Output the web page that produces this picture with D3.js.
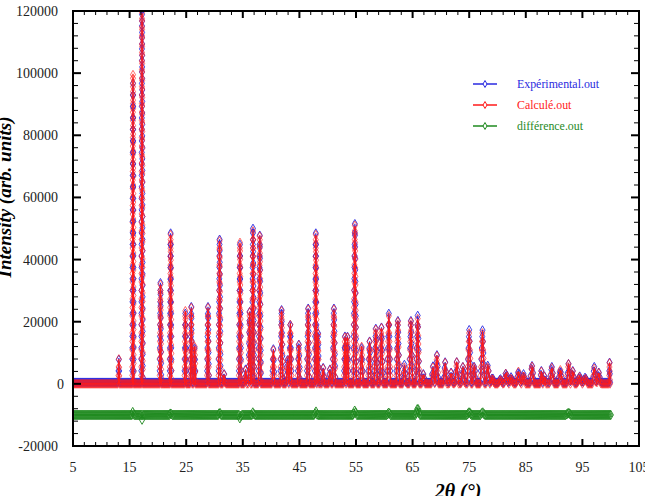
<!DOCTYPE html>
<html>
<head>
<meta charset="utf-8">
<script src="https://cdn.jsdelivr.net/npm/d3@7"></script>
<style>
  body { margin: 0; background: #fff; }
  text { font-family: "Liberation Serif", "Times New Roman", serif; }
</style>
</head>
<body>
<div id="chart"></div>
<script>
// Reflection positions (2theta, deg) and peak intensities
const peakPos = [13.1, 15.6, 17.2, 20.45, 22.25, 24.85, 25.9, 26.5, 28.85, 30.9,
    31.7, 34.5, 35.5, 36.2, 36.8, 38.0, 40.4, 41.85, 42.9, 43.4,
    44.9, 46.55, 47.9, 48.3, 49.2, 50.4, 51.1, 53.05, 53.5, 54.8,
    56.0, 57.4, 58.5, 59.5, 60.8, 62.4, 63.55, 64.7, 65.9, 66.9,
    68.6, 69.3, 70.75, 71.8, 72.8, 73.9, 75.0, 75.9, 77.35, 78.3,
    79.1, 80.5, 81.5, 82.4, 83.7, 84.6, 86.1, 87.75, 88.3, 89.6,
    91.1, 92.55, 93.3, 94.5, 95.5, 97.1, 97.9, 99.8];

// Calculé.out peak heights
const calcPeak = [8000, 99500, 119500, 32000, 48000, 23500, 24500, 12000, 24500, 46000,
    3000, 45500, 4500, 23000, 49500, 47500, 11000, 23500, 7500, 19500,
    12500, 24000, 48000, 16000, 5000, 4500, 24000, 15000, 15000, 51000,
    12000, 13500, 17500, 18000, 22500, 20000, 6000, 20000, 21000, 3000,
    5500, 9000, 6800, 3500, 7000, 5600, 17000, 6000, 17000, 6200,
    2000, 1500, 3600, 2000, 4000, 3000, 5600, 4000, 2300, 5300,
    4500, 6400, 4000, 2400, 2000, 5300, 3500, 6700];

// Expérimental.out peak heights
const obsPeak = [8300, 97000, 120500, 32500, 48500, 23300, 24800, 12300, 24800, 46500,
    3200, 45000, 4700, 23200, 50000, 47800, 11200, 23800, 7700, 19800,
    12700, 24300, 48500, 16300, 5200, 4700, 24300, 15300, 15200, 51500,
    12200, 13700, 17800, 18200, 22800, 20300, 6200, 20300, 22000, 3200,
    5700, 9300, 7000, 3700, 7200, 5800, 17400, 6200, 17300, 6400,
    2200, 1700, 3800, 2200, 4200, 3200, 5800, 4200, 2500, 5500,
    4700, 6600, 4200, 2600, 2200, 5500, 3700, 6900];

const obsBase = 500;
const calcBase = 0;
const scanStart = 5;
const scanEnd = 100;

// différence.out, plotted with an offset of -10000
const diffOffset = -10000;
const diffPos = [15.6, 17.2, 22.25, 30.9, 34.5, 36.8, 47.9, 54.8, 60.8, 65.9, 75.0, 77.35, 92.55];
const diffVal = [1500, -1500, 800, 1000, -1200, 900, 1200, 1500, 800, 2400, 1000, 900, 700];

const seriesNames = ["Expérimental.out", "Calculé.out", "différence.out"];
const seriesColors = ["#2a2ae0", "#ff1a1a", "#1f8a1f"];

const xMajor = d3.range(5, 106, 10);
const xMinor = d3.range(5, 106, 2);
const yMajor = d3.range(-20000, 120001, 20000);
const yMinor = d3.range(-20000, 120001, 4000);

// Canvas
const width = 645, height = 496;
const x = d3.scaleLinear().domain([5, 105]).range([73, 639]);
const y = d3.scaleLinear().domain([-20000, 120000]).range([446, 11]);

const svg = d3.select("#chart").append("svg")
    .attr("width", width)
    .attr("height", height);

svg.append("clipPath").attr("id", "plotclip")
    .append("rect")
    .attr("x", x(5) + 1).attr("y", y(120000) + 1)
    .attr("width", x(105) - x(5) - 2).attr("height", y(-20000) - y(120000) - 2);

// Build the spike profile of a pattern from its peak list
function profile(pos, heights, base) {
    var pts = [[scanStart, base]];
    pos.forEach(function (p, i) {
        var hw = 0.08 + 0.004 * (p - 5);
        var prev = i > 0 ? pos[i - 1] : scanStart;
        var next = i < pos.length - 1 ? pos[i + 1] : scanEnd;
        hw = Math.min(hw, (p - prev) * 0.45, (next - p) * 0.45);
        pts.push([p - hw, base], [p, base + heights[i]], [p + hw, base]);
    });
    pts.push([scanEnd, base]);
    return pts;
}

// Place diamond markers along the drawn line (dense along flat parts)
function markerPoints(px, gap) {
    var out = [], last = null;
    for (var i = 0; i < px.length - 1; i++) {
        var x0 = px[i][0], y0 = px[i][1], x1 = px[i + 1][0], y1 = px[i + 1][1];
        var L = Math.hypot(x1 - x0, y1 - y0);
        var n = Math.max(1, Math.ceil(L / 0.5));
        for (var k = 0; k <= n; k++) {
            var t = k / n, xx = x0 + (x1 - x0) * t, yy = y0 + (y1 - y0) * t;
            if (!last || Math.abs(xx - last[0]) >= 0.9 || Math.abs(yy - last[1]) >= gap ||
                (k === n && Math.hypot(xx - last[0], yy - last[1]) > 2.5)) {
                out.push([xx, yy]);
                last = [xx, yy];
            }
        }
    }
    return out;
}

var obsData = profile(peakPos, obsPeak.map(function (v) { return v - obsBase; }), obsBase);
var calcData = profile(peakPos, calcPeak.map(function (v) { return v - calcBase; }), calcBase);
var diffData = profile(diffPos, diffVal, diffOffset);

var line = d3.line()
    .x(function (d) { return x(d[0]); })
    .y(function (d) { return y(d[1]); });

var plot = svg.append("g").attr("clip-path", "url(#plotclip)");

function drawSeries(data, color, gap, markerSize, markerOpacity) {
    var px = data.map(function (d) { return [x(d[0]), y(d[1])]; });
    plot.append("g")
        .selectAll("path")
        .data(markerPoints(px, gap))
        .enter().append("path")
        .attr("d", d3.symbol().type(d3.symbolDiamond).size(markerSize))
        .attr("transform", function (d) { return "translate(" + d[0] + "," + d[1] + ")"; })
        .attr("fill", "none")
        .attr("stroke", color)
        .attr("stroke-opacity", markerOpacity)
        .attr("stroke-width", 1);
    plot.append("path")
        .datum(data)
        .attr("d", line)
        .attr("fill", "none")
        .attr("stroke", color)
        .attr("stroke-width", 1.2);
}

drawSeries(obsData, seriesColors[0], 11, 22, 0.9);
drawSeries(calcData, seriesColors[1], 8, 22, 0.65);
drawSeries(diffData, seriesColors[2], 8, 26, 0.9);

// Frame and ticks (all inward)
var axes = svg.append("g").attr("stroke", "#000");
axes.append("rect")
    .attr("x", x(5)).attr("y", y(120000))
    .attr("width", x(105) - x(5)).attr("height", y(-20000) - y(120000))
    .attr("fill", "none").attr("stroke-width", 2);

yMinor.forEach(function (v) {
    var major = yMajor.indexOf(v) >= 0;
    var w = major ? 2 : 1;
    var len = major ? 8 : 5;
    axes.append("line").attr("x1", x(5)).attr("x2", x(5) + len)
        .attr("y1", y(v)).attr("y2", y(v)).attr("stroke-width", w);
    axes.append("line").attr("x1", x(105)).attr("x2", x(105) - len)
        .attr("y1", y(v)).attr("y2", y(v)).attr("stroke-width", w);
});

xMinor.forEach(function (v) {
    var major = xMajor.indexOf(v) >= 0;
    var w = major ? 2 : 1;
    var len = major ? 7 : 4;
    axes.append("line").attr("x1", x(v)).attr("x2", x(v))
        .attr("y1", y(-20000)).attr("y2", y(-20000) - len).attr("stroke-width", w);
    axes.append("line").attr("x1", x(v)).attr("x2", x(v))
        .attr("y1", y(120000)).attr("y2", y(120000) + len).attr("stroke-width", w);
});

// Tick labels
svg.append("g").selectAll("text")
    .data(yMajor)
    .enter().append("text")
    .attr("x", function (d) { return d === 0 ? 64 : 58; })
    .attr("y", function (d) { return y(d) + 5; })
    .attr("text-anchor", "end")
    .attr("font-size", "14px")
    .attr("fill", "#222")
    .text(function (d) { return d; });

svg.append("g").selectAll("text")
    .data(xMajor)
    .enter().append("text")
    .attr("x", function (d) { return x(d); })
    .attr("y", 472)
    .attr("text-anchor", "middle")
    .attr("font-size", "14px")
    .attr("fill", "#222")
    .text(function (d) { return d; });

// Axis titles
svg.append("text")
    .attr("transform", "translate(11,197) rotate(-90)")
    .attr("text-anchor", "middle")
    .attr("font-size", "19px")
    .attr("font-weight", "bold")
    .attr("font-style", "italic")
    .text("Intensity (arb. units)");

svg.append("text")
    .attr("x", 458)
    .attr("y", 498)
    .attr("text-anchor", "middle")
    .attr("font-size", "20px")
    .attr("font-weight", "bold")
    .attr("font-style", "italic")
    .text("2θ (°)");

// Legend
var legend = svg.append("g").selectAll("g")
    .data(seriesNames)
    .enter().append("g")
    .attr("transform", function (d, i) { return "translate(473," + (84 + i * 21) + ")"; });

legend.append("line")
    .attr("x1", 0).attr("x2", 24)
    .attr("stroke", function (d, i) { return seriesColors[i]; })
    .attr("stroke-width", 1.5);

legend.append("path")
    .attr("d", d3.symbol().type(d3.symbolDiamond).size(14))
    .attr("transform", "translate(12,0)")
    .attr("fill", "#fff")
    .attr("stroke", function (d, i) { return seriesColors[i]; });

legend.append("text")
    .attr("transform", "translate(44,4) scale(0.88,1)")
    .attr("font-size", "13.5px")
    .attr("fill", function (d, i) { return seriesColors[i]; })
    .text(function (d) { return d; });
</script>
</body>
</html>
